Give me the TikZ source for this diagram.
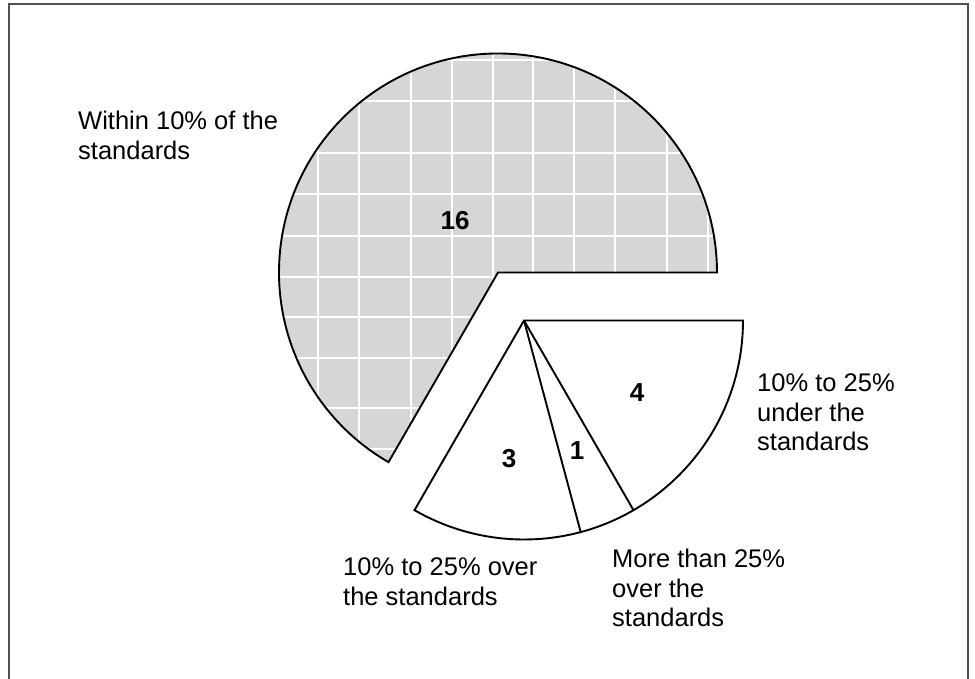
\documentclass[tikz,border=0pt]{standalone}
\usepackage{fontspec}
\setmainfont{Liberation Sans}
\definecolor{frameGray}{RGB}{80,80,80}
\definecolor{pieGray}{RGB}{214,214,214}
\newcommand{\lbltext}[1]{\begin{tabular}[t]{@{}l@{}}#1\end{tabular}}
\begin{document}
\begin{tikzpicture}[x=1pt,y=1pt,
  lbl/.style={anchor=base west, inner sep=0pt, font=\fontsize{25.5}{29.5}\selectfont},
  num/.style={inner sep=0pt, font=\fontsize{26}{30}\selectfont\bfseries},
  edge/.style={draw=black, line width=1.9pt, line join=miter},
  gridline/.style={draw=white, line width=1.5pt}]
\useasboundingbox (0,0) rectangle (975,679);
\draw[frameGray, line width=2pt] (8.5,0) -- (8.5,675) -- (968,675) -- (968,0);
\coordinate (c1) at (498,406.5);
\coordinate (c2) at (524,358.5);
% big slice (16)
\begin{scope}
  \path[fill=pieGray] (c1) -- ++(219,0) arc[start angle=0,end angle=240,radius=219] -- cycle;
  \clip (c1) -- ++(219,0) arc[start angle=0,end angle=240,radius=219] -- cycle;
  \foreach \gx in {318,359,411,452,493,533,574,615,667,708}
    \draw[gridline] (\gx,180) -- (\gx,640);
  \foreach \gy in {619,578,526,485,443,402,362,321,271,230}
    \draw[gridline] (270,\gy) -- (730,\gy);
\end{scope}
\draw[edge] (c1) -- ++(219,0) arc[start angle=0,end angle=240,radius=219] -- cycle;
% exploded slices
\draw[edge] (c2) -- ++(219,0) arc[start angle=0,end angle=-120,radius=219] -- cycle;
\draw[edge] (c2) -- ++(-60:219);
\draw[edge] (c2) -- ++(-75:219);
% numbers
\node[num] (n16) at (455,458) {16};
\node[num] (n4) at (637,286) {4};
\node[num] (n1) at (577,228) {1};
\node[num] (n3) at (509,220) {3};
% labels
\node[lbl] (lwithin) at (78,549) {\lbltext{Within 10\% of the\\standards}};
\node[lbl] (lunder) at (757,287) {\lbltext{10\% to 25\%\\under the\\standards}};
\node[lbl] (lover) at (343,103) {\lbltext{10\% to 25\% over\\the standards}};
\node[lbl] (lmore) at (612,111) {\lbltext{More than 25\%\\over the\\standards}};
\end{tikzpicture}
\end{document}
